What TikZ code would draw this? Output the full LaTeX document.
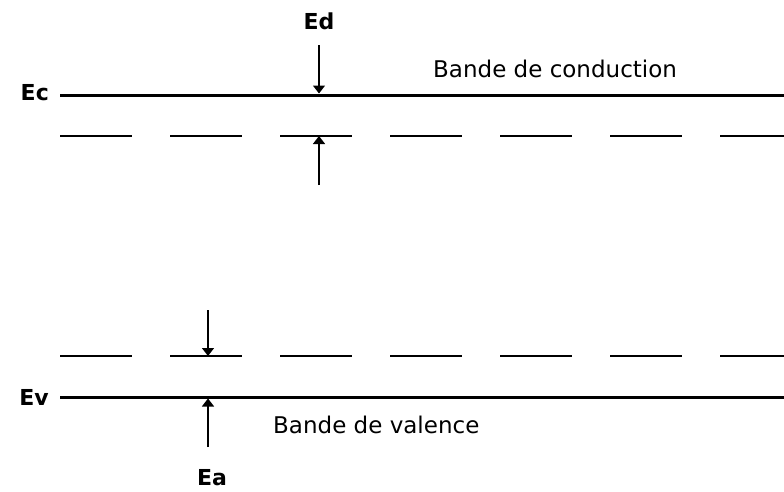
\documentclass[tikz,border=0pt]{standalone}
\usepackage{fontspec}
\setmainfont{DejaVu Sans}
\usetikzlibrary{arrows.meta}

\begin{document}
\begin{tikzpicture}[x=1pt,y=-1pt,
  every node/.style={inner sep=0pt,font=\fontsize{23}{25}\selectfont},
  lbl/.style={font=\fontsize{22}{24}\selectfont\bfseries},
  band/.style={line width=3pt},
  level/.style={line width=1.5pt,dash pattern=on 72pt off 38pt},
  gap/.style={line width=1.3pt,-{Triangle[length=8pt,width=12pt]}}
]
\useasboundingbox (0,0) rectangle (784,491);
% bandes
\coordinate (ecL) at (60,95);  \coordinate (ecR) at (784,95);
\coordinate (evL) at (60,397); \coordinate (evR) at (784,397);
\draw[band] (ecL) -- (ecR);
\draw[band] (evL) -- (evR);
% niveaux donneur et accepteur
\coordinate (edL) at (60,136); \coordinate (edR) at (784,136);
\coordinate (eaL) at (60,356); \coordinate (eaR) at (784,356);
\draw[level] (edL) -- (edR);
\draw[level] (eaL) -- (eaR);
% etiquettes
\node[lbl,anchor=base east] (Ec) at (49,100) {Ec};
\node[lbl,anchor=base east] (Ev) at (49,405) {Ev};
\node[lbl,anchor=base] (Ed) at (319,29) {Ed};
\node[lbl,anchor=base] (Ea) at (212,485) {Ea};
\node[anchor=base west] (cond) at (433,77) {Bande de conduction};
\node[anchor=base west] (val) at (273,433) {Bande de valence};
% fleches
\coordinate (d1) at (319,45);  \coordinate (d2) at (319,93.5);
\coordinate (d3) at (319,185); \coordinate (d4) at (319,136);
\coordinate (a1) at (208,310); \coordinate (a2) at (208,356);
\coordinate (a3) at (208,447); \coordinate (a4) at (208,398.5);
\draw[gap] (d1) -- (d2);
\draw[gap] (d3) -- (d4);
\draw[gap] (a1) -- (a2);
\draw[gap] (a3) -- (a4);
\end{tikzpicture}
\end{document}
